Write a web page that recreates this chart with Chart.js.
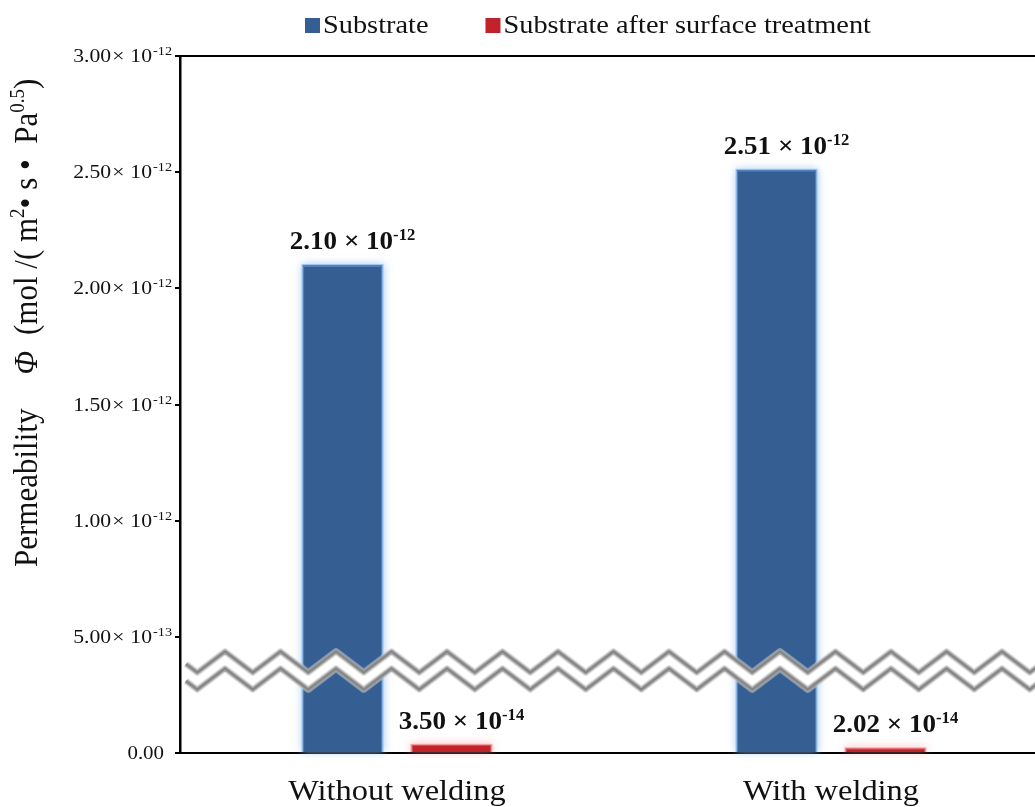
<!DOCTYPE html>
<html>
<head>
<meta charset="utf-8">
<title>Permeability</title>
<script src="https://cdn.jsdelivr.net/npm/chart.js@4.4.1/dist/chart.umd.min.js"></script>
<style>
  html, body { margin: 0; padding: 0; background: #fff; overflow: hidden; }
  #wrap { width: 1060px; height: 807px; }
</style>
</head>
<body>
<div id="wrap"><canvas id="chart1"></canvas></div>
<script>
// data
var categories = ["Without welding", "With welding"];
var seriesNames = ["Substrate", "Substrate after surface treatment"];
var substrate = [2.10e-12, 2.51e-12];
var treated = [3.50e-14, 2.02e-14];
var yTicks = [0, 5e-13, 1e-12, 1.5e-12, 2e-12, 2.5e-12, 3e-12];
var axisBreak = 0.355e-12;

var SERIF = '"Liberation Serif", "Times New Roman", serif';
var colors = ["#355f93", "#c1232b"];
var glows = ["rgba(150,192,240,0.9)", "rgba(245,150,155,0.8)"];

// split a number into mantissa / power of ten
function sci(v) {
    var e = Math.floor(Math.log10(v) + 1e-9);
    return { m: (v / Math.pow(10, e)).toFixed(2), e: e };
}

// draws a row of text runs (for superscripts), widened a bit horizontally
function drawRuns(ctx, runs, x, y, align, sx) {
    var total = 0;
    runs.forEach(function (r) {
        ctx.font = r.font;
        r.w = ctx.measureText(r.text).width * sx + (r.pre || 0);
        total += r.w;
    });
    var cx = align === "right" ? x - total : (align === "center" ? x - total / 2 : x);
    runs.forEach(function (r) {
        ctx.save();
        ctx.font = r.font;
        ctx.translate(cx + (r.pre || 0), y + (r.dy || 0));
        ctx.scale(sx, 1);
        ctx.fillText(r.text, 0, 0);
        ctx.restore();
        cx += r.w;
    });
}

function zigzag(x0, x1, firstPeak, period, mid, amp) {
    var pts = [];
    var tri = function (x) {
        var p = (x - firstPeak) / period;
        return Math.abs(p - Math.round(p));
    };
    pts.push([x0, mid - amp + 4 * amp * tri(x0)]);
    var k = Math.ceil((x0 - firstPeak) / (period / 2));
    for (var x = firstPeak + k * period / 2; x < x1; x += period / 2) {
        pts.push([x, mid - amp + 4 * amp * tri(x)]);
    }
    pts.push([x1, mid - amp + 4 * amp * tri(x1)]);
    return pts;
}

function pathOf(ctx, pts) {
    ctx.beginPath();
    pts.forEach(function (p, i) { i ? ctx.lineTo(p[0], p[1]) : ctx.moveTo(p[0], p[1]); });
}

var decorations = {
    id: "decorations",
    // soft halo behind every bar
    beforeDatasetsDraw: function (chart) {
        var ctx = chart.ctx;
        ctx.save();
        chart.data.datasets.forEach(function (ds, di) {
            chart.getDatasetMeta(di).data.forEach(function (bar) {
                var p = bar.getProps(["x", "y", "base", "width"], true);
                ctx.shadowColor = glows[di];
                ctx.shadowBlur = 8;
                ctx.fillStyle = glows[di];
                ctx.fillRect(p.x - p.width / 2 - 1, p.y - 1, p.width + 2, p.base - p.y + 1);
            });
        });
        ctx.restore();
    },
    afterDatasetsDraw: function (chart) {
        var ctx = chart.ctx;
        var area = chart.chartArea;
        var yc = chart.scales.y.getPixelForValue(axisBreak);

        // axis break band
        var x0 = area.left + 6, x1 = area.right, peak0 = area.left + 45, per = 55.5, amp = 10.5;
        var top = zigzag(x0, x1, peak0, per, yc - 8.5, amp);
        var bot = zigzag(x0, x1, peak0, per, yc + 8.5, amp);
        ctx.save();
        ctx.beginPath();
        top.forEach(function (p, i) { i ? ctx.lineTo(p[0], p[1]) : ctx.moveTo(p[0], p[1]); });
        bot.slice().reverse().forEach(function (p) { ctx.lineTo(p[0], p[1]); });
        ctx.closePath();
        ctx.fillStyle = "#fff";
        ctx.fill();
        ctx.lineJoin = "round";
        [top, bot].forEach(function (line) {
            pathOf(ctx, line);
            ctx.strokeStyle = "rgba(200,200,200,0.55)";
            ctx.lineWidth = 7;
            ctx.stroke();
            ctx.strokeStyle = "rgba(160,160,160,0.85)";
            ctx.lineWidth = 4.5;
            ctx.stroke();
            ctx.strokeStyle = "#858585";
            ctx.lineWidth = 2;
            ctx.stroke();
        });
        ctx.restore();

        // value labels
        ctx.save();
        ctx.fillStyle = "#111";
        ctx.textBaseline = "alphabetic";
        chart.data.datasets.forEach(function (ds, di) {
            chart.getDatasetMeta(di).data.forEach(function (bar, i) {
                var s = sci(ds.data[i]);
                drawRuns(ctx, [
                    { text: s.m + " \u00d7 10", font: "bold 26px " + SERIF },
                    { text: String(s.e), font: "bold 16px " + SERIF, dy: -9 }
                ], bar.x + 10, bar.y - 16, "center", 1.04);
            });
        });
        ctx.restore();
    },
    afterDraw: function (chart) {
        var ctx = chart.ctx;
        var area = chart.chartArea;
        var y = chart.scales.y, x = chart.scales.x;
        ctx.save();
        ctx.fillStyle = "#111";
        ctx.textBaseline = "alphabetic";

        // top frame line
        ctx.strokeStyle = "#000";
        ctx.lineWidth = 2;
        ctx.beginPath();
        ctx.moveTo(area.left - 1, area.top);
        ctx.lineTo(area.right, area.top);
        ctx.stroke();

        // y tick labels
        yTicks.forEach(function (v) {
            var py = y.getPixelForValue(v);
            if (v === 0) {
                drawRuns(ctx, [{ text: "0.00", font: "19px " + SERIF }], 164, py + 6, "right", 1.1);
                return;
            }
            var s = sci(v);
            drawRuns(ctx, [
                { text: s.m, font: "19px " + SERIF },
                { text: "\u00d7", font: "19px " + SERIF, pre: 1 },
                { text: "10", font: "19px " + SERIF, pre: 6 },
                { text: String(s.e), font: "12.5px " + SERIF, dy: -7, pre: 1 }
            ], 172, py + 6, "right", 1.14);
        });

        // category labels
        categories.forEach(function (c, i) {
            drawRuns(ctx, [{ text: c, font: "30px " + SERIF }], x.getPixelForTick(i), 800, "center", 1.08);
        });

        // legend
        var lx = 305;
        seriesNames.forEach(function (name, i) {
            ctx.fillStyle = colors[i];
            ctx.fillRect(lx, 18, 15, 15);
            ctx.fillStyle = "#111";
            ctx.font = "26px " + SERIF;
            var w = ctx.measureText(name).width * 1.09;
            drawRuns(ctx, [{ text: name, font: "26px " + SERIF }], lx + 18, 33, "left", 1.09);
            lx += 18 + w + 57;
        });

        // y axis title, rotated
        ctx.translate(37, 567);
        ctx.rotate(-Math.PI / 2);
        ctx.scale(1, 1.08);
        var f = "31px " + SERIF, fs = "19px " + SERIF;
        drawRuns(ctx, [
            { text: "Permeability", font: f },
            { text: "\u03a6", font: "italic 31px " + SERIF, pre: 34 },
            { text: "(mol /( m", font: f, pre: 16 },
            { text: "2", font: fs, dy: -12 },
            { text: "\u2022 s \u2022  Pa", font: f },
            { text: "0.5", font: fs, dy: -12 },
            { text: ")", font: f }
        ], 0, 0, "left", 1);
        ctx.restore();
    }
};

new Chart(document.getElementById("chart1"), {
    type: "bar",
    data: {
        labels: categories,
        datasets: [
            {
                label: seriesNames[0],
                data: substrate,
                backgroundColor: colors[0],
                borderColor: "#4f82c2",
                borderWidth: 1.5,
                categoryPercentage: 0.502,
                barPercentage: 0.734
            },
            {
                label: seriesNames[1],
                data: treated,
                backgroundColor: colors[1],
                borderColor: "#d24a52",
                borderWidth: 1,
                categoryPercentage: 0.502,
                barPercentage: 0.734
            }
        ]
    },
    options: {
        responsive: true,
        maintainAspectRatio: false,
        animation: false,
        layout: { padding: { top: 56, right: 12, left: 0, bottom: 0 } },
        plugins: { legend: { display: false }, tooltip: { enabled: false } },
        scales: {
            x: {
                ticks: { display: false },
                grid: { display: false },
                border: { color: "#000", width: 2 },
                afterFit: function (s) { s.height = 54; }
            },
            y: {
                min: 0,
                max: 3e-12,
                ticks: { display: false },
                afterBuildTicks: function (s) {
                    s.ticks = yTicks.map(function (v) { return { value: v }; });
                },
                afterFit: function (s) { s.width = 180; },
                grid: { drawOnChartArea: false, drawTicks: true, tickLength: 5, color: "#000", lineWidth: 2 },
                border: { color: "#000", width: 2.5 }
            }
        }
    },
    plugins: [decorations]
});
</script>
</body>
</html>
